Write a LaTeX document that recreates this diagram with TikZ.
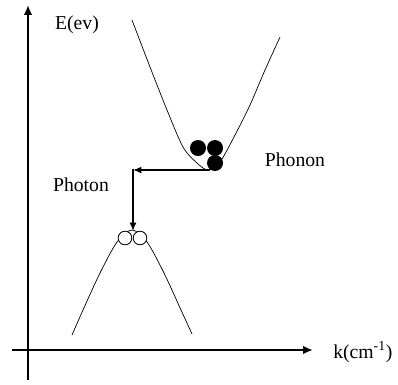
\documentclass[tikz,border=0pt]{standalone}
\usepackage{fontspec}
\setmainfont{Liberation Serif}
\usetikzlibrary{arrows.meta}

\begin{document}
\begin{tikzpicture}[x=0.025cm, y=-0.025cm,
  axis/.style={line width=1.4pt, -{Latex[length=7pt,width=6pt]}},
  band/.style={line width=0.5pt},
  hop/.style={line width=1.1pt, -{Latex[length=6pt,width=5pt]}},
  elec/.style={circle, fill=black, inner sep=0pt, minimum size=0.4cm},
  hole/.style={circle, draw=black, fill=white, line width=0.6pt, inner sep=0pt, minimum size=0.34cm},
  lbl/.style={font=\fontsize{14}{16}\selectfont, inner sep=0pt}]
  \useasboundingbox (0,0) rectangle (398,384);

  % Axes
  \coordinate (O) at (28,350);
  \coordinate (ybot) at (28,380);
  \coordinate (ytop) at (28,5);
  \coordinate (xleft) at (12,350);
  \coordinate (xright) at (313,350);
  \draw[axis] (ybot) -- (ytop);
  \draw[axis] (xleft) -- (xright);
  \node[lbl] (elabel) at (77,25) {E(ev)};
  \node[lbl, anchor=west] (klabel) at (333,352) {k(cm\textsuperscript{-1})};

  % Conduction band
  \draw[band] plot[smooth] coordinates {(132,20) (150,67) (167,110) (183,147)
    (197,163) (208,170) (220,162) (235,135) (250,105) (265,70) (280,37)};

  % Valence band
  \draw[band] plot[smooth] coordinates {(72,335) (83,310) (100,273) (117,242)
    (132,230) (147,242) (164,273) (181,310) (192,334)};

  % Transition: phonon then photon
  \coordinate (cmin) at (210,170);
  \coordinate (corner) at (133,170);
  \coordinate (vtop) at (133,231);
  \draw[hop] (cmin) -- (corner);
  \draw[line width=1.1pt] (corner) -- ++(0,-0.6);
  \draw[hop] (corner) -- (vtop);

  % Electrons
  \node[elec] (e1) at (198,148) {};
  \node[elec] (e2) at (215,148) {};
  \node[elec] (e3) at (215,163) {};

  % Holes
  \node[hole] (h1) at (125,238) {};
  \node[hole] (h2) at (140,238) {};

  % Labels
  \node[lbl] (phonon) at (295,160) {Phonon};
  \node[lbl] (photon) at (81,185) {Photon};

\end{tikzpicture}
\end{document}
